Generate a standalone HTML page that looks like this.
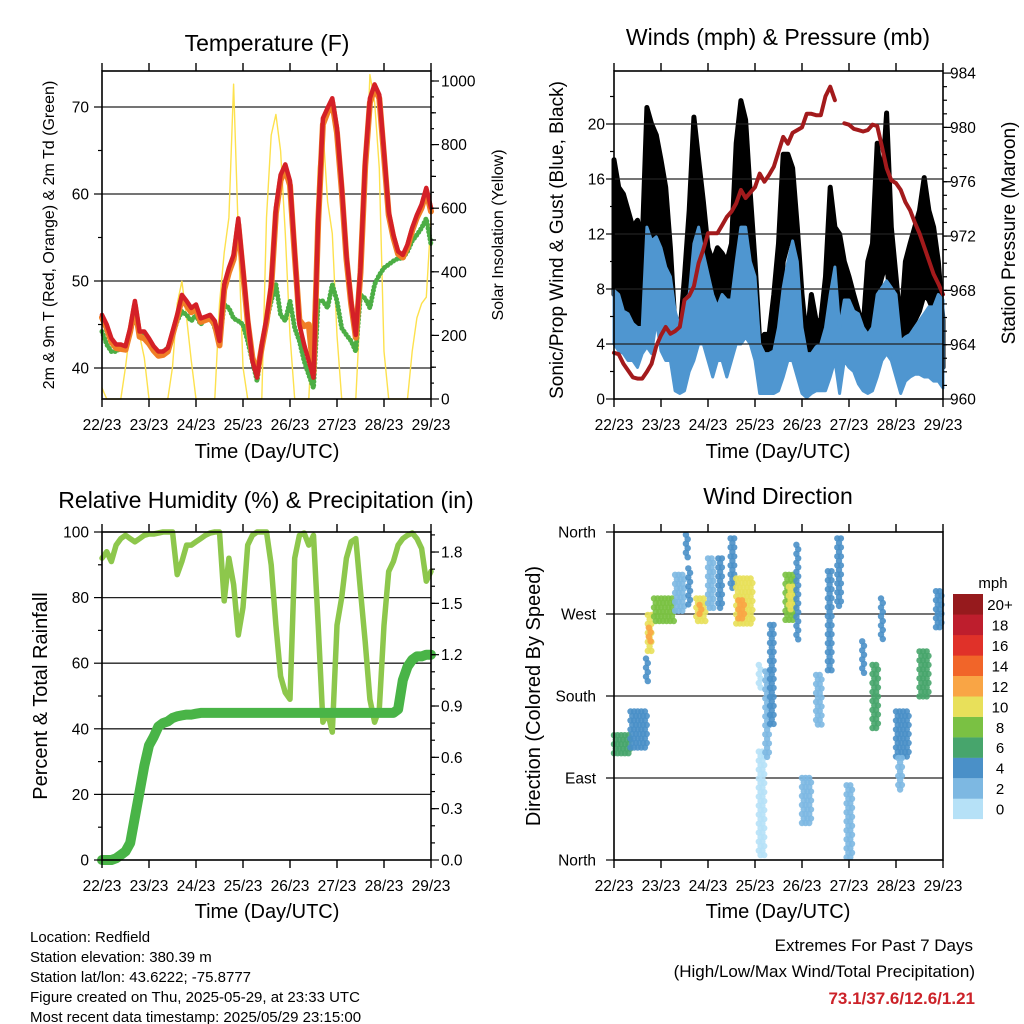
<!DOCTYPE html>
<html><head><meta charset="utf-8"><style>
body{margin:0;background:#fff;}
svg{display:block;font-family:"Liberation Sans",sans-serif;}
</style></head><body>
<svg id="fig" width="1024" height="1024" viewBox="0 0 1024 1024">
<rect x="0" y="0" width="1024" height="1024" fill="#fff"/>
<g id="layers"></g>
<text x="267" y="51" font-size="23" text-anchor="middle">Temperature (F)</text>
<text x="778" y="45" font-size="23" text-anchor="middle">Winds (mph) &amp; Pressure (mb)</text>
<text x="266" y="508" font-size="23" text-anchor="middle">Relative Humidity (%) &amp; Precipitation (in)</text>
<text x="778" y="504" font-size="23" text-anchor="middle">Wind Direction</text>
<text x="267" y="458" font-size="20" text-anchor="middle">Time (Day/UTC)</text>
<text x="778" y="458" font-size="20" text-anchor="middle">Time (Day/UTC)</text>
<text x="267" y="918" font-size="20" text-anchor="middle">Time (Day/UTC)</text>
<text x="778" y="918" font-size="20" text-anchor="middle">Time (Day/UTC)</text>
<text transform="translate(54,235) rotate(-90)" font-size="16" text-anchor="middle">2m &amp; 9m T (Red, Orange) &amp; 2m Td (Green)</text>
<text transform="translate(503,235) rotate(-90)" font-size="16" text-anchor="middle">Solar Insolation (Yellow)</text>
<text transform="translate(563,240) rotate(-90)" font-size="19" text-anchor="middle">Sonic/Prop Wind &amp; Gust (Blue, Black)</text>
<text transform="translate(1015,233) rotate(-90)" font-size="19" text-anchor="middle">Station Pressure (Maroon)</text>
<text transform="translate(47,696) rotate(-90)" font-size="20" text-anchor="middle">Percent &amp; Total Rainfall</text>
<text transform="translate(540,696) rotate(-90)" font-size="20" text-anchor="middle">Direction (Colored By Speed)</text>
<text x="993" y="588" font-size="15" text-anchor="middle">mph</text>
<g font-size="15">
<text x="30" y="942">Location: Redfield</text>
<text x="30" y="962">Station elevation: 380.39 m</text>
<text x="30" y="982">Station lat/lon: 43.6222; -75.8777</text>
<text x="30" y="1002">Figure created on Thu, 2025-05-29, at 23:33 UTC</text>
<text x="30" y="1022">Most recent data timestamp: 2025/05/29 23:15:00</text>
</g>
<text x="973" y="951" font-size="17" text-anchor="end">Extremes For Past 7 Days</text>
<text x="975" y="977" font-size="17" text-anchor="end">(High/Low/Max Wind/Total Precipitation)</text>
<text x="975" y="1004" font-size="17" font-weight="bold" fill="#cc2229" text-anchor="end">73.1/37.6/12.6/1.21</text>
</svg>
<script>
// ---------- data (0.1-day sampling from 22/23) ----------
const dayLabels = ['22/23','23/23','24/23','25/23','26/23','27/23','28/23','29/23'];
const temp9m = [46.1,45,43.4,42.7,42.7,42.5,44.6,47.7,44.2,44.2,43.4,42.5,41.9,41.9,42.3,44.2,46.1,48.4,47.7,46.9,47.3,45.7,45.9,46.1,45.4,43.1,49.6,51.5,53,57.2,51.5,45.7,40.8,38.9,42.7,45.7,49.6,58.4,62.2,63.4,61.5,53.4,45,42.7,40.8,38.9,57.2,68.7,69.9,71,67.6,61,53,47.7,43.8,51.5,63.8,71,72.6,71.4,64.9,58,55.3,53.4,53,54.2,56.1,57.6,58.8,60.7,58.4];
const temp2m = [45.8,44.6,43,42.3,42.2,42.1,44.2,47.2,43.6,43.4,42.8,42,41.4,41.5,41.9,43.8,45.8,48,47.2,46.4,46.8,45.3,45.5,45.7,45,42.6,49,51,52.5,56.5,51,45.3,41.2,39.3,42.4,45.3,49.2,57.8,61.6,62.8,61,53,45.5,44.8,45,39.5,56.8,68,69.4,70.5,67,60.5,52.6,47.4,43.5,51,63.2,70.5,72.2,71,64.4,57.6,55,53.1,52.7,53.9,55.8,57.3,58.4,60.3,58];
const dewPt = [44.2,42.7,41.9,41.9,42.3,42.3,44.2,46.1,43.8,43.8,43.1,42.3,41.7,41.9,42.3,43.8,45.4,46.5,46.1,45.4,46.1,45,45.7,46.1,44.6,43.1,47.3,46.9,45.7,45.4,45,43.1,40.8,38.5,42.7,45.4,47.7,49.6,46.1,45.4,47.7,44.6,43.1,40.8,39.2,37.7,47.7,47.7,46.9,49.6,47.7,44.6,43.8,43.1,41.9,48.4,48,46.9,49.6,50.7,51.5,51.9,52.3,52.6,52.6,53.4,54.6,55.3,56.1,57.2,54.2];
const solar = [35,0,0,0,0,100,220,255,200,130,0,0,0,0,0,100,300,370,255,120,0,0,0,0,0,300,460,570,990,520,100,0,0,0,0,570,830,895,780,520,200,0,0,0,0,300,725,850,620,520,200,0,0,0,0,300,620,1020,935,725,150,0,0,0,0,0,150,255,300,320,570];
const windLow = [4,3.5,3.3,2.8,2.8,2.3,3.3,3.8,3.3,5.7,3.5,2.8,2.8,0.6,0.4,0.6,2,2.8,4,4,2.8,1.6,2.8,2.8,1.6,2.8,4,4,4.5,4,2.8,0.4,0.4,0.4,0.4,0.6,1.6,2.8,2.8,1.6,0.4,0.1,0.4,0.6,0.6,0.6,1.6,2.8,0.4,2.8,2.3,2,1.1,0.6,0.4,0.6,1.6,2.8,3.3,2.8,1.6,0.4,1.3,1.6,1.8,1.8,1.6,1.6,1.3,1.3,0.8];
const windHigh = [7.9,7.6,6.4,6.2,5.5,5.2,5.2,12.5,11.5,11.8,11,9.6,8.9,6.4,5.2,7.2,7.6,11.3,12.5,10.6,9.1,7.6,6.7,7.6,7.2,7.2,10,12.5,12.5,10,8.9,4,3.3,3.3,3.5,5.2,8.1,10,11.5,10,5.2,3.3,3.3,3.8,4,5.2,7.6,9.6,5.2,7.2,7.2,6.4,6.2,5.2,4.7,5.2,7.6,8.1,8.6,8.1,7.6,4.2,4.5,4.7,5.2,5.7,6.2,6.7,6.7,7.6,7.2];
const gustLow = [7.6,7.2,6.4,5.2,4.7,5.2,5.2,10,11.3,10,8.9,7.6,5.2,2.8,1.6,2.8,5.2,10,10,7.6,5.2,3.8,5.2,5.2,5.2,5.2,10,12.5,11.3,7.6,4,1.6,1.6,1.3,2.8,5.2,10,11.3,11.3,7.6,2.8,1.3,1.6,2.8,2.8,4,5.2,7.6,5.2,5.2,4,2.8,2.3,1.8,2.8,4,7.6,8.9,10,6.4,4,2.3,4,5.2,5.7,6.4,7.6,7.2,6.4,5.2,2.3];
const gustHigh = [17.4,15.4,14.9,13.7,12.5,13,11.3,21.2,20,19.2,17.4,15.4,11,5.2,4.7,8.9,13.7,20.5,17.4,14.4,11,10,11,10.6,10,11.3,18.6,21.7,20.3,14.9,10,4.2,4.7,4.7,7.6,11.3,17.8,17.8,16.8,12.5,7.6,4.2,7.6,5.7,5.7,8.9,15.4,12.5,12,10,8.9,7.6,6.4,5.2,10,11.3,18.6,15.4,20.8,12.5,8.9,5.2,10,11.3,12.5,13.7,16.1,13.7,12.5,10,5.7];
const pressure = [963.4,963.3,962.6,962.1,961.6,961.5,961.5,962,962.6,963.9,964.7,965.3,964.8,965,965.3,967.3,967.6,968.3,970,971,972.2,972.2,972.2,972.8,973.4,973.8,974.4,975.4,974.8,975.2,975.6,976.6,976,976.5,977.1,978.2,979.3,978.8,979.6,979.8,980,981,981,980.9,980.9,982.3,983,982,null,980.3,980.2,979.9,979.8,979.7,979.8,980.2,980.1,978.6,977,976.1,975.9,975.4,974.5,973.9,973,972.2,971.2,970.2,969.2,968.5,967.7];
const relHum = [92,94,91,96,98,99,98,97,98,99,99.4,99.4,99.7,100,100,100,87,91,96,96,97,98,99,99.7,100,100,79,92,84,68.6,77,96,99,100,100,100,90,71.6,56,51,49,92,99,99.7,96,99,71.6,42,45,39,71.6,80,92,97,98,82,66.5,49,42,46,71.6,88,91,96,98,99,99.7,98,95,85,88];
const precip = [0,0,0,0.01,0.03,0.05,0.1,0.25,0.4,0.55,0.67,0.72,0.78,0.8,0.81,0.83,0.84,0.845,0.85,0.85,0.855,0.86,0.86,0.86,0.86,0.86,0.86,0.86,0.86,0.86,0.86,0.86,0.86,0.86,0.86,0.86,0.86,0.86,0.86,0.86,0.86,0.86,0.86,0.86,0.86,0.86,0.86,0.86,0.86,0.86,0.86,0.86,0.86,0.86,0.86,0.86,0.86,0.86,0.86,0.86,0.86,0.86,0.86,0.88,1.05,1.13,1.17,1.19,1.19,1.2,1.2];
// wind-direction clusters: start day, end day, low deg, high deg, speed mph
const dirStart = [0.0,0.35,0.68,0.72,0.74,0.85,1.3,1.53,1.58,1.75,1.82,2.0,2.22,2.48,2.6,2.65,3.08,3.08,3.22,3.32,3.65,3.72,3.88,4.0,4.3,4.55,4.75,4.95,5.28,5.5,5.68,6.0,6.05,6.5,6.85];
const dirEnd   = [0.35,0.7,0.72,0.82,0.78,1.3,1.5,1.58,1.65,1.95,1.88,2.12,2.3,2.58,2.95,2.8,3.15,3.2,3.3,3.4,3.85,3.8,3.92,4.2,4.45,4.65,4.85,5.1,5.32,5.65,5.72,6.3,6.15,6.7,7.0];
const dirLo    = [115,119,196,229,240,258,273,331,276,262,268,276,276,295,258,262,185,5,112,148,262,275,240,38,148,207,276,2,203,141,240,112,75,178,251];
const dirHi    = [137,163,221,269,255,287,313,357,320,287,280,331,331,353,309,285,214,119,207,258,313,300,346,90,203,317,353,82,240,214,287,163,112,229,295];
const dirSpd   = [6,4,4,11,12,9,2,4,5,11,12,3,4,4,11,13,1,1,2,4,9,11,4,2,2,5,5,2.5,4,7,4,4,2,6,5];
const speedColors = ['#b6e1f7','#7db8e2','#4a90c8','#47a56c','#7ac143','#e8e05a','#f9a545','#f16529','#e03129','#be1e2d','#961a1d'];
const speedLabels = ['0','2','4','6','8','10','12','14','16','18','20+'];
const tempTicks = [40,50,60,70];
const solarTicks = [0,200,400,600,800,1000];
const windTicks = [0,4,8,12,16,20];
const presTicks = [960,964,968,972,976,980,984];
const rhTicks = [0,20,40,60,80,100];
const prTicks = ['0.0','0.3','0.6','0.9','1.2','1.5','1.8'];
const dirTicks = [0,90,180,270,360];
const dirTickLabels = ['North','East','South','West','North'];

// ---------- helpers ----------
const NS='http://www.w3.org/2000/svg';
const root=document.getElementById('layers');
function mk(tag, attrs, parent){const e=document.createElementNS(NS,tag);for(const k in attrs)e.setAttribute(k,attrs[k]);(parent||root).appendChild(e);return e;}
const DAY=47, STEP=0.1;
const P1={x0:102,x1:431,y0:71,y1:399}, P2={x0:614,x1:943,y0:71,y1:399}, P3={x0:102,x1:431,y0:532,y1:860}, P4={x0:614,x1:943,y0:532,y1:860};
const xAt=(P,d)=>P.x0+d*DAY;
const tempY=v=>368-(v-40)*8.7;
const solarY=v=>399-v*0.318;
const windY=v=>399-v*13.75;
const presY=v=>399-(v-960)*13.58;
const rhY=v=>860-v*3.28;
const prY=v=>860-v*171.1;
const dirY=v=>860-v*328/360;

function frame(P,name){
  const g=mk('g',{});
  
  
  return g;
}
function hgrid(P,g,ys){ys.forEach(y=>{const l=mk('line',{x1:P.x0,x2:P.x1,y1:y,y2:y,stroke:'#222','stroke-width':1.3},g);
  
  });}
function border(P,g){const r=mk('rect',{x:P.x0,y:P.y0,width:P.x1-P.x0,height:P.y1-P.y0,fill:'none',stroke:'#000','stroke-width':1.6},g);
  
  }
function xaxis(P,g,labY){
  dayLabels.forEach((lab,i)=>{const x=xAt(P,i);
    const t1=mk('line',{x1:x,x2:x,y1:P.y1,y2:P.y1+8,stroke:'#000','stroke-width':1.4},g);
    
    
    const t2=mk('line',{x1:x,x2:x,y1:P.y0,y2:P.y0-8,stroke:'#000','stroke-width':1.4},g);
    
    
    const tx=mk('text',{x:x,y:labY,'font-size':15.5,'text-anchor':'middle'},g);tx.textContent=lab;
    
    
  });
}
function yticks(g,x,dir,vals,fy,len){vals.forEach(v=>{const y=fy(v);
  const t=mk('line',{x1:x,x2:x+dir*len,y1:y,y2:y,stroke:'#000','stroke-width':1.2},g);
  
  });}
function ylabels(g,x,anchor,vals,labs,fy){vals.forEach((v,i)=>{const t=mk('text',{x:x,y:fy(v)+5.5,'font-size':15.5,'text-anchor':anchor},g);t.textContent=labs[i];
  
  });}
function polyline(g,P,arr,fy,stroke,w,name,extra){
  let segs=[],cur=[];
  arr.forEach((v,i)=>{if(v===null){if(cur.length)segs.push(cur);cur=[];}else cur.push(xAt(P,i*STEP).toFixed(1)+','+fy(v).toFixed(1));});
  if(cur.length)segs.push(cur);
  segs.forEach(s=>{const p=mk('polyline',Object.assign({points:s.join(' '),fill:'none',stroke:stroke,'stroke-width':w,'stroke-linejoin':'round','stroke-linecap':'round'},extra||{}),g);
    
    });
}
function band(g,P,lo,hi,fy,fill,stroke,w,name){
  const top=hi.map((v,i)=>xAt(P,i*STEP).toFixed(1)+','+fy(v).toFixed(1));
  const bot=lo.map((v,i)=>xAt(P,i*STEP).toFixed(1)+','+fy(v).toFixed(1)).reverse();
  const p=mk('polygon',{points:top.concat(bot).join(' '),fill:fill,stroke:stroke,'stroke-width':w,'stroke-linejoin':'round'},g);
  
  
}
function range(a,b,s){const r=[];for(let v=a;v<=b+1e-9;v+=s)r.push(v);return r;}

// ---------- Panel 1: temperature ----------
{const g=frame(P1,'temperature-panel');
 hgrid(P1,g,tempTicks.map(tempY));
 polyline(g,P1,solar,solarY,'#fde14d',1.4,'solar-insolation-line');
 polyline(g,P1,dewPt,tempY,'#4cae45',5,'dewpoint-2m-line',{'stroke-dasharray':'0.1 3.6'});
 polyline(g,P1,dewPt,tempY,'#4cae45',3,'dewpoint-2m-core');
 polyline(g,P1,temp2m,tempY,'#f07e26',6,'temperature-2m-line');
 polyline(g,P1,temp9m,tempY,'#d42027',4.5,'temperature-9m-line');
 border(P1,g); xaxis(P1,g,430);
 yticks(g,P1.x0,-1,tempTicks,tempY,8); yticks(g,P1.x0,-1,[45,55,65],tempY,4);
 yticks(g,P1.x1,1,solarTicks,solarY,8); yticks(g,P1.x1,1,range(100,900,200),solarY,5); yticks(g,P1.x1,1,range(50,1000,50),solarY,3);
 ylabels(g,89,'end',tempTicks,tempTicks.map(String),tempY);
 ylabels(g,441,'start',solarTicks,solarTicks.map(String),solarY);
}
// ---------- Panel 2: winds ----------
{const g=frame(P2,'winds-panel');
 band(g,P2,gustLow,gustHigh,windY,'#000','#000',5,'gust-points');
 band(g,P2,windLow,windHigh,windY,'#4f96d0','#4f96d0',3,'sonic-wind-band');
 hgrid(P2,g,windTicks.slice(1).map(windY));
 polyline(g,P2,pressure,presY,'#a31a1c',4,'station-pressure-line');
 border(P2,g); xaxis(P2,g,430);
 yticks(g,P2.x0,-1,windTicks,windY,8); yticks(g,P2.x0,-1,range(2,22,4),windY,4);
 yticks(g,P2.x1,1,presTicks,presY,8); yticks(g,P2.x1,1,range(961,983,1),presY,4);
 ylabels(g,605,'end',windTicks,windTicks.map(String),windY);
 ylabels(g,950,'start',presTicks,presTicks.map(String),presY);
}
// ---------- Panel 3: humidity & precip ----------
{const g=frame(P3,'humidity-panel');
 hgrid(P3,g,[20,40,60,80].map(rhY));
 polyline(g,P3,relHum,rhY,'#8dc74c',5.5,'relative-humidity-line');
 polyline(g,P3,precip,prY,'#49b447',10,'total-precip-line');
 border(P3,g); xaxis(P3,g,891);
 yticks(g,P3.x0,-1,rhTicks,rhY,8); yticks(g,P3.x0,-1,range(10,90,20),rhY,4);
 yticks(g,P3.x1,1,prTicks.map(Number),prY,8); yticks(g,P3.x1,1,range(0.1,1.9,0.1),prY,4);
 ylabels(g,89,'end',rhTicks,rhTicks.map(String),rhY);
 ylabels(g,441,'start',prTicks.map(Number),prTicks,prY);
}
// ---------- Panel 4: wind direction ----------
{const g=frame(P4,'wind-direction-panel');
 hgrid(P4,g,[90,180,270].map(dirY));
 dirStart.forEach((t0,c)=>{
   const col=speedColors[Math.min(10,Math.floor(dirSpd[c]/2))];
   const xs=xAt(P4,t0), xe=xAt(P4,dirEnd[c]), ys=dirY(dirHi[c]), ye=dirY(dirLo[c]);
   let row=0;
   for(let y=ys;y<=ye+0.1;y+=4.5,row++){
     for(let x=xs+(row%2)*1.8;x<=xe+0.1;x+=3.6){
       const d=mk('circle',{cx:x.toFixed(1),cy:y.toFixed(1),r:3.2,fill:col,'fill-opacity':0.9},g);
       
       
     }
   }
 });
 border(P4,g); xaxis(P4,g,891);
 yticks(g,P4.x0,-1,dirTicks,dirY,8);
 ylabels(g,596,'end',dirTicks,dirTickLabels,dirY);
 // colorbar
 const cb=mk('g',{},root);
 
 
 speedColors.forEach((c,i)=>{const y=819-(i+1)*20.45;
   const r=mk('rect',{x:953,y:y.toFixed(1),width:30,height:20.6,fill:c},cb);
   
   
   const t=mk('text',{x:1000,y:(y+16).toFixed(1),'font-size':15,'text-anchor':'middle'},cb);t.textContent=speedLabels[i];
   
   
 });
}
</script>
</body></html>
